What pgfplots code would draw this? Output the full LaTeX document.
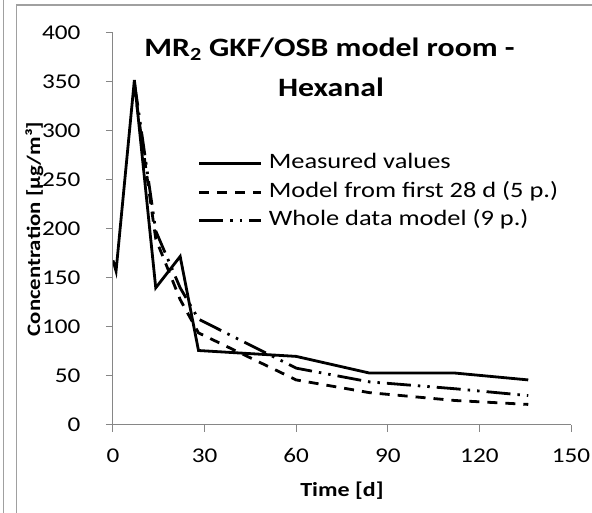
\documentclass[border=0pt]{standalone}
\usepackage{fontspec}
\setmainfont{Carlito}[FakeStretch=1.2]
\usepackage{pgfplots}
\pgfplotsset{compat=1.18}

\definecolor{axgray}{RGB}{134,134,134}
\definecolor{framegray}{RGB}{160,160,160}

\begin{document}
\begin{tikzpicture}
\path[use as bounding box] (0pt,0pt) rectangle (592pt,513pt);
% outer frame of the chart area
\draw[framegray, line width=1.2pt] (3.6pt,0pt) -- (3.6pt,513pt);
\draw[framegray, line width=1.2pt] (16.7pt,0pt) -- (16.7pt,508pt) -- (592pt,508pt);

\begin{axis}[
    at={(113pt,88pt)}, anchor=south west,
    scale only axis,
    width=458pt, height=392pt,
    xmin=0, xmax=150, ymin=0, ymax=400,
    xtick={0,30,...,150}, ytick={0,50,...,400},
    axis x line*=bottom, axis y line*=left,
    axis line style={axgray, line width=1pt},
    tick style={axgray, line width=1pt},
    tick align=outside, major tick length=7pt,
    ticklabel style={font=\fontsize{21}{25}\selectfont, text=black},
    /pgf/number format/assume math mode=true,
    xticklabel style={anchor=north, yshift=-13pt},
    yticklabel style={anchor=east, xshift=-22pt},
    legend image code/.code={\draw[#1] (0pt,0pt) -- (62pt,0pt); \path (68pt,0pt);},
    legend cell align=left,
    legend style={at={(0.1856,0.692)}, anchor=north west, draw=none, fill=none,
        inner sep=0pt, outer sep=0pt, row sep=8.5pt,
        font=\fontsize{22}{26}\selectfont,
        nodes={inner sep=0pt, text height=15pt, text depth=5pt}},
]
% measured concentrations
\addplot[black, line width=2.8pt] coordinates {
    (0,168) (1,157) (7,352) (14,140) (22,172) (28,76) (60,70) (84,53) (112,53) (136,46)
};
\addlegendentry{Measured values}
% model fitted to the first 28 days
\addplot[black, line width=2.8pt, dash pattern=on 10pt off 8pt] coordinates {
    (7,345) (14,190) (22,128) (28,94) (60,46) (84,33) (112,25) (136,21)
};
\addlegendentry{Model from first 28 d (5 p.)}
% model fitted to all data
\addplot[black, line width=2.8pt, dash pattern=on 24pt off 7pt on 2.5pt off 7pt on 2.5pt off 7pt] coordinates {
    (7,350) (14,198) (22,140) (28,108) (60,58) (84,44) (112,37) (136,30)
};
\addlegendentry{Whole data model (9 p.)}
\end{axis}

% title and axis labels
\node[anchor=base, font=\bfseries\fontsize{26.5}{30}\selectfont] at (329.5pt,456.3pt) {MR\textsubscript{2} GKF/OSB model room -};
\node[anchor=base, font=\bfseries\fontsize{26.5}{30}\selectfont] at (331pt,416.3pt) {Hexanal};
\node[anchor=base, rotate=90, font=\bfseries\fontsize{19}{23}\selectfont] at (40pt,284pt) {Concentration [µg/m³]};
\node[anchor=base, font=\bfseries\fontsize{20}{24}\selectfont] at (342pt,16pt) {Time [d]};
\end{tikzpicture}
\end{document}
